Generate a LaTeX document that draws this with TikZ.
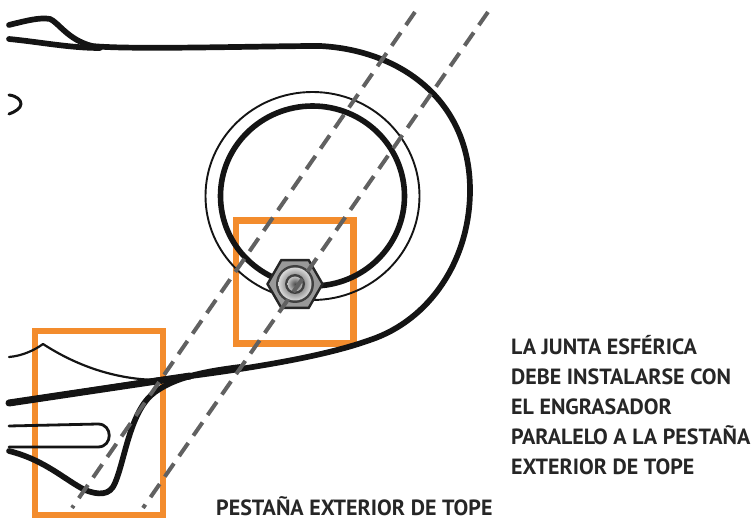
\documentclass[tikz,border=0pt]{standalone}
\usepackage{fontspec}
\setmainfont{PT Sans}
\usetikzlibrary{shapes.geometric}
\definecolor{naranja}{RGB}{243,140,45}
\tikzstyle{marco}=[draw=naranja, line width=6.5pt, fill=none]
\tikzstyle{eje}=[draw=black!62, line width=4pt, dash pattern=on 16pt off 9pt]
\tikzstyle{grueso}=[draw=black!92, line width=5.7pt, line cap=round, line join=round]
\tikzstyle{fino}=[draw=black!92, line width=2.2pt, line cap=round, line join=round]
\tikzstyle{rotulo}=[inner sep=0pt, anchor=north west, align=left, font=\fontsize{22}{29.8}\selectfont\bfseries, text=black!85]
\begin{document}
\begin{tikzpicture}[x=1pt,y=-1pt]
 \useasboundingbox (0,0) rectangle (756,521);

 \node[marco, minimum width=117.5pt, minimum height=123pt, inner sep=0pt] (marcoA) at (294.75,282) {};
 \node[marco, minimum width=128pt, minimum height=184pt, inner sep=0pt] (marcoB) at (99,423) {};

 % cuerpo
 \draw[grueso] (9,25) .. controls (25,21) and (40,17) .. (50,19) .. controls (58,22) and (68,40) .. (92,46)
   .. controls (130,50) and (260,46) .. (320,46) .. controls (400,50) and (470,100) .. (470,190)
   .. controls (470,260) and (430,320) .. (370,340) .. controls (320,358) and (240,370) .. (160,380)
   -- (9,403);
 \draw[grueso, line width=7pt] (190,376) -- (9,403);
 \draw[grueso] (9,39) .. controls (40,42) and (70,48) .. (100,48);
 \draw[grueso] (240,367) .. controls (200,372) and (175,378) .. (155,392) .. controls (130,410) and (125,460) .. (115,483)
   .. controls (110,496) and (98,495) .. (85,490) .. controls (65,480) and (45,460) .. (9,451);
 \draw[fino] (9,357) .. controls (22,356) and (35,350) .. (43,344) .. controls (80,368) and (120,380) .. (160,380);
 \draw[fino, line width=2.8pt] (9,426) -- (98,424) .. controls (113,424) and (113,447) .. (98,447) -- (9,447);
 \draw[grueso, line width=3pt] (9,95) .. controls (17,96) and (21,100) .. (21,104) .. controls (21,108) and (15,112) .. (9,114);

 % anillo
 \draw[black!92, line width=1.9pt] (312.5,196) ellipse (107 and 104);
 \draw[black!92, line width=5.6pt] (312.5,196) ellipse (92 and 90);

 % engrasador
 \node[regular polygon, regular polygon sides=6, minimum size=55pt, inner sep=0pt, draw=black!85, line width=2.4pt, fill=black!40] (hexagono) at (295,284) {};
 \fill[black!75] (hexagono.center) circle (19);
 \shade[inner color=black!75, outer color=black!15] (hexagono.center) circle (16.5);
 \fill[black!75] (hexagono.center) circle (10);
 \shade[inner color=black!70, outer color=black!25] (hexagono.center) circle (7.5);

 % ejes
 \coordinate (ejeA1) at (415,12);
 \coordinate (ejeA2) at (72,508);
 \coordinate (ejeB1) at (488,12);
 \coordinate (ejeB2) at (143,508);
 \draw[eje] (ejeA1) -- (ejeA2);
 \draw[eje] (ejeB1) -- (ejeB2);

 \node[rotulo] (texto) at (511,335.5) {LA JUNTA ESFÉRICA\\DEBE INSTALARSE CON\\EL ENGRASADOR\\PARALELO A LA PESTAÑA\\EXTERIOR DE TOPE};
 \node[rotulo] (pestana) at (216,496.5) {PESTAÑA EXTERIOR DE TOPE};

\end{tikzpicture}
\end{document}
